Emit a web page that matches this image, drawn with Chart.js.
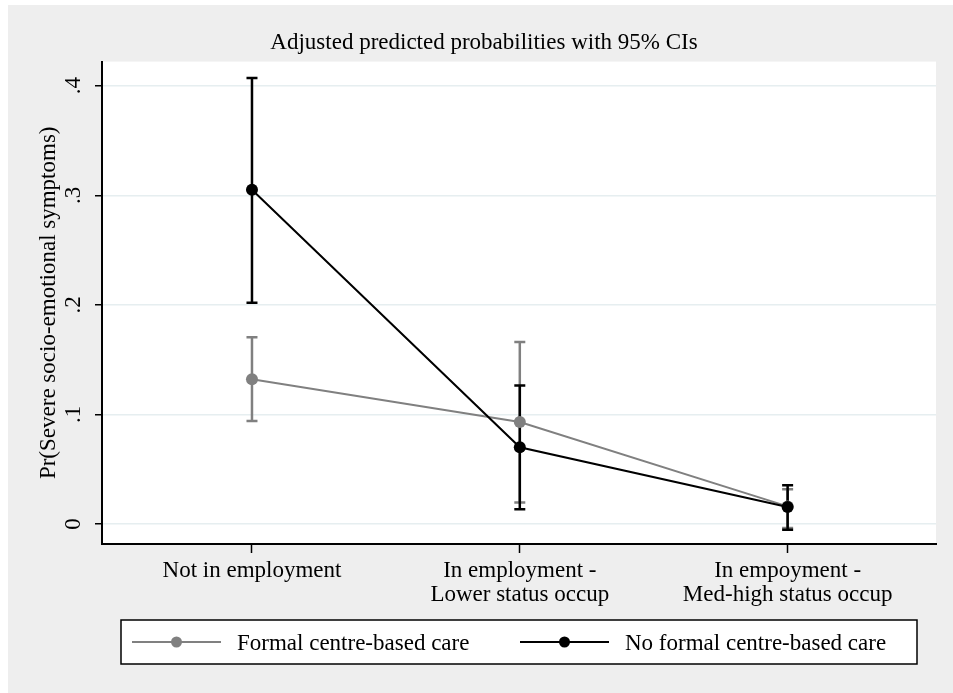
<!DOCTYPE html>
<html>
<head>
<meta charset="utf-8">
<title>Adjusted predicted probabilities</title>
<script src="https://cdn.jsdelivr.net/npm/chart.js@4.4.0/dist/chart.umd.min.js"></script>
<style>
body { margin: 0; background: #fff; }
#wrap { position: absolute; left: 8px; top: 5px; width: 945px; height: 688px; }
</style>
</head>
<body>
<div id="wrap"><canvas id="myChart"></canvas></div>
<script>
// categories on the x axis (arrays = two-line labels)
var categories = ['Not in employment', ['In employment -', 'Lower status occup'], ['In empoyment -', 'Med-high status occup']];
var seriesNames = ['Formal centre-based care', 'No formal centre-based care'];

// predicted probabilities and 95% CIs
var formalEst = [0.132, 0.093, 0.016];
var formalLow = [0.094, 0.0195, -0.0037];
var formalHigh = [0.1705, 0.166, 0.0317];

var noFormalEst = [0.305, 0.070, 0.0155];
var noFormalLow = [0.2018, 0.0134, -0.0052];
var noFormalHigh = [0.407, 0.1263, 0.0353];

var yTicks = [0, 0.1, 0.2, 0.3, 0.4];

var greyColor = '#808080';
var blackColor = '#000000';
var serif = "'Liberation Serif', 'Times New Roman', serif";

function toPoints(values) {
    var pts = [];
    for (var i = 0; i < values.length; i++) {
        pts.push({ x: i + 1, y: values[i] });
    }
    return pts;
}

// grey page, white plot region
var background = {
    id: 'background',
    beforeDraw: function(chart) {
        var ctx = chart.ctx;
        var a = chart.chartArea;
        ctx.save();
        ctx.fillStyle = '#eeeeee';
        ctx.fillRect(0, 0, chart.width, chart.height);
        ctx.fillStyle = '#ffffff';
        ctx.fillRect(a.left, a.top, a.right - a.left, a.bottom - a.top);
        ctx.restore();
    }
};

// capped CI spikes
var errorBars = {
    id: 'errorBars',
    beforeDatasetsDraw: function(chart) {
        var ctx = chart.ctx;
        var xs = chart.scales.x;
        var ys = chart.scales.y;
        var bars = [[formalLow, formalHigh, greyColor], [noFormalLow, noFormalHigh, blackColor]];
        ctx.save();
        ctx.lineWidth = 2.5;
        for (var b = 0; b < bars.length; b++) {
            var lo = bars[b][0], hi = bars[b][1];
            ctx.strokeStyle = bars[b][2];
            for (var i = 0; i < lo.length; i++) {
                var x = xs.getPixelForValue(i + 1);
                var y1 = ys.getPixelForValue(lo[i]);
                var y2 = ys.getPixelForValue(hi[i]);
                ctx.beginPath();
                ctx.moveTo(x, y1); ctx.lineTo(x, y2);
                ctx.moveTo(x - 5.5, y1); ctx.lineTo(x + 5.5, y1);
                ctx.moveTo(x - 5.5, y2); ctx.lineTo(x + 5.5, y2);
                ctx.stroke();
            }
        }
        ctx.restore();
    }
};

// boxed legend below the axis
var boxLegend = {
    id: 'boxLegend',
    afterDraw: function(chart) {
        var ctx = chart.ctx;
        var top = chart.chartArea.bottom + 76;
        var left = 113, right = 909, h = 44;
        var mid = top + h / 2;
        var items = [
            { x: 124, color: greyColor, label: chart.data.datasets[0].label },
            { x: 512, color: blackColor, label: chart.data.datasets[1].label }
        ];
        ctx.save();
        ctx.fillStyle = '#ffffff';
        ctx.fillRect(left, top, right - left, h);
        ctx.strokeStyle = '#000';
        ctx.lineWidth = 1.5;
        ctx.strokeRect(left, top, right - left, h);
        for (var i = 0; i < items.length; i++) {
            var it = items[i];
            ctx.strokeStyle = it.color;
            ctx.lineWidth = 2;
            ctx.beginPath();
            ctx.moveTo(it.x, mid);
            ctx.lineTo(it.x + 89, mid);
            ctx.stroke();
            ctx.fillStyle = it.color;
            ctx.beginPath();
            ctx.arc(it.x + 44.5, mid, 5.5, 0, Math.PI * 2);
            ctx.fill();
            ctx.fillStyle = '#000';
            ctx.font = '23px ' + serif;
            ctx.textBaseline = 'middle';
            ctx.textAlign = 'left';
            ctx.fillText(it.label, it.x + 105, mid + 2);
        }
        ctx.restore();
    }
};

Chart.defaults.font.family = serif;
Chart.defaults.font.size = 23;
Chart.defaults.color = '#000';

var ctx = document.getElementById('myChart').getContext('2d');
var myChart = new Chart(ctx, {
    type: 'line',
    data: {
        datasets: [{
            label: seriesNames[0],
            data: toPoints(formalEst),
            borderColor: greyColor,
            backgroundColor: greyColor,
            borderWidth: 2,
            pointRadius: 6,
            pointHoverRadius: 6,
            pointBorderWidth: 0,
            order: 1
        }, {
            label: seriesNames[1],
            data: toPoints(noFormalEst),
            borderColor: blackColor,
            backgroundColor: blackColor,
            borderWidth: 2,
            pointRadius: 6,
            pointHoverRadius: 6,
            pointBorderWidth: 0,
            order: 0
        }]
    },
    options: {
        responsive: true,
        maintainAspectRatio: false,
        animation: false,
        layout: { padding: { top: 0, left: 24, right: 17, bottom: 79 } },
        plugins: {
            legend: { display: false },
            tooltip: { enabled: false },
            title: {
                display: true,
                text: 'Adjusted predicted probabilities with 95% CIs',
                color: '#000',
                font: { size: 23, weight: 'normal' },
                padding: { top: 24, bottom: 5 }
            }
        },
        scales: {
            x: {
                type: 'linear',
                min: 0.44,
                max: 3.554,
                afterBuildTicks: function(scale) {
                    scale.ticks = [{ value: 1 }, { value: 2 }, { value: 3 }];
                },
                afterFit: function(scale) { scale.height = 70; },
                ticks: {
                    autoSkip: false,
                    maxRotation: 0,
                    padding: 6,
                    font: { size: 23, lineHeight: 1.05 },
                    callback: function(v) { return categories[v - 1]; }
                },
                grid: { drawOnChartArea: false, tickLength: 9, tickColor: '#000', tickWidth: 1.5 },
                border: { color: '#000', width: 2 }
            },
            y: {
                min: -0.0183,
                max: 0.422,
                afterBuildTicks: function(scale) {
                    scale.ticks = yTicks.map(function(v) { return { value: v }; });
                },
                afterFit: function(scale) { scale.width = 70; },
                ticks: {
                    minRotation: 90,
                    maxRotation: 90,
                    crossAlign: 'center',
                    padding: 12,
                    callback: function(v) { return v === 0 ? '0' : String(v).replace('0.', '.'); }
                },
                grid: { color: '#e6eef0', lineWidth: 1.5, tickLength: 7, tickColor: '#000', tickWidth: 1.5 },
                border: { color: '#000', width: 2 },
                title: {
                    display: true,
                    text: 'Pr(Severe socio-emotional symptoms)',
                    font: { size: 23 },
                    padding: { top: 3, bottom: 0 }
                }
            }
        }
    },
    plugins: [background, errorBars, boxLegend]
});
</script>
</body>
</html>
